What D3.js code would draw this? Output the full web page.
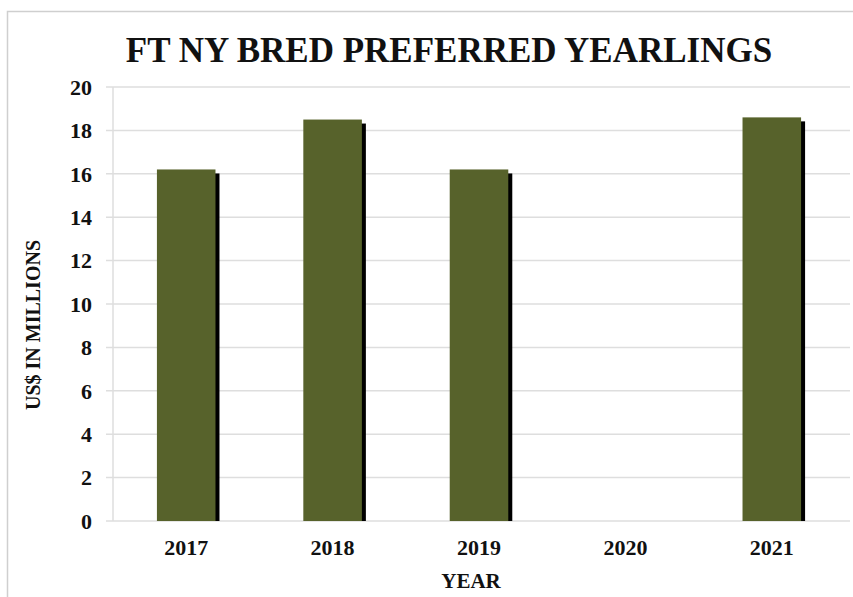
<!DOCTYPE html>
<html>
<head>
<meta charset="utf-8">
<script src="https://cdn.jsdelivr.net/npm/d3@7"></script>
<style>
  html, body { margin: 0; padding: 0; background: #fff; }
  text { font-family: "Liberation Serif", "Times New Roman", serif; font-weight: bold; fill: #111; }
</style>
</head>
<body>
<div id="app"></div>
<script>
const years = ["2017", "2018", "2019", "2020", "2021"];
const values = [16.2, 18.5, 16.2, null, 18.6];
const yTicks = [0, 2, 4, 6, 8, 10, 12, 14, 16, 18, 20];

const width = 853;
const height = 597;
const margin = { top: 87, right: 8, bottom: 76, left: 113 };

const svg = d3.select("#app")
    .append("svg")
    .attr("width", width)
    .attr("height", height);

// outer frame (left and top edges visible)
svg.append("path")
    .attr("d", `M7.5,${height}V11.5H${width}`)
    .attr("fill", "none")
    .attr("stroke", "#cfcfcf")
    .attr("stroke-width", 1.5);

const x = d3.scaleBand()
    .domain(years)
    .range([margin.left, width - margin.right])
    .padding(0);

const y = d3.scaleLinear()
    .domain([0, 20])
    .range([height - margin.bottom, margin.top]);

// gridlines
svg.append("g")
    .selectAll("line")
    .data(yTicks)
    .join("line")
    .attr("x1", margin.left - 7)
    .attr("x2", width - 3)
    .attr("y1", d => y(d))
    .attr("y2", d => y(d))
    .attr("stroke", "#dedede")
    .attr("stroke-width", 1.5);

// left axis line
svg.append("line")
    .attr("x1", margin.left).attr("x2", margin.left)
    .attr("y1", y(20)).attr("y2", y(0))
    .attr("stroke", "#dedede")
    .attr("stroke-width", 1.5);

const barW = x.bandwidth() * 0.4;
const bars = years.map((yr, i) => ({ year: yr, value: values[i] })).filter(d => d.value != null);

// shadows
svg.append("g")
    .selectAll("rect")
    .data(bars)
    .join("rect")
    .attr("x", d => x(d.year) + (x.bandwidth() - barW) / 2 + 4)
    .attr("y", d => y(d.value) + 4)
    .attr("width", barW)
    .attr("height", d => y(0) - y(d.value) - 4)
    .attr("fill", "#000");

svg.append("g")
    .selectAll("rect")
    .data(bars)
    .join("rect")
    .attr("x", d => x(d.year) + (x.bandwidth() - barW) / 2)
    .attr("y", d => y(d.value))
    .attr("width", barW)
    .attr("height", d => y(0) - y(d.value))
    .attr("fill", "#57622b");

// y tick labels
svg.append("g")
    .selectAll("text")
    .data(yTicks)
    .join("text")
    .attr("x", 92)
    .attr("y", d => y(d))
    .attr("dy", "0.35em")
    .attr("text-anchor", "end")
    .attr("font-size", 22)
    .text(d => d);

// x tick labels
svg.append("g")
    .selectAll("text")
    .data(years)
    .join("text")
    .attr("x", d => x(d) + x.bandwidth() / 2)
    .attr("y", 555)
    .attr("text-anchor", "middle")
    .attr("font-size", 22)
    .text(d => d);

// title
svg.append("text")
    .attr("x", 449)
    .attr("y", 62)
    .attr("text-anchor", "middle")
    .attr("font-size", 35)
    .text("FT NY BRED PREFERRED YEARLINGS");

// axis titles
svg.append("text")
    .attr("x", 471)
    .attr("y", 588)
    .attr("text-anchor", "middle")
    .attr("font-size", 21)
    .text("YEAR");

svg.append("text")
    .attr("transform", "translate(40,325) rotate(-90)")
    .attr("text-anchor", "middle")
    .attr("font-size", 20)
    .text("US$ IN MILLIONS");
</script>
</body>
</html>
